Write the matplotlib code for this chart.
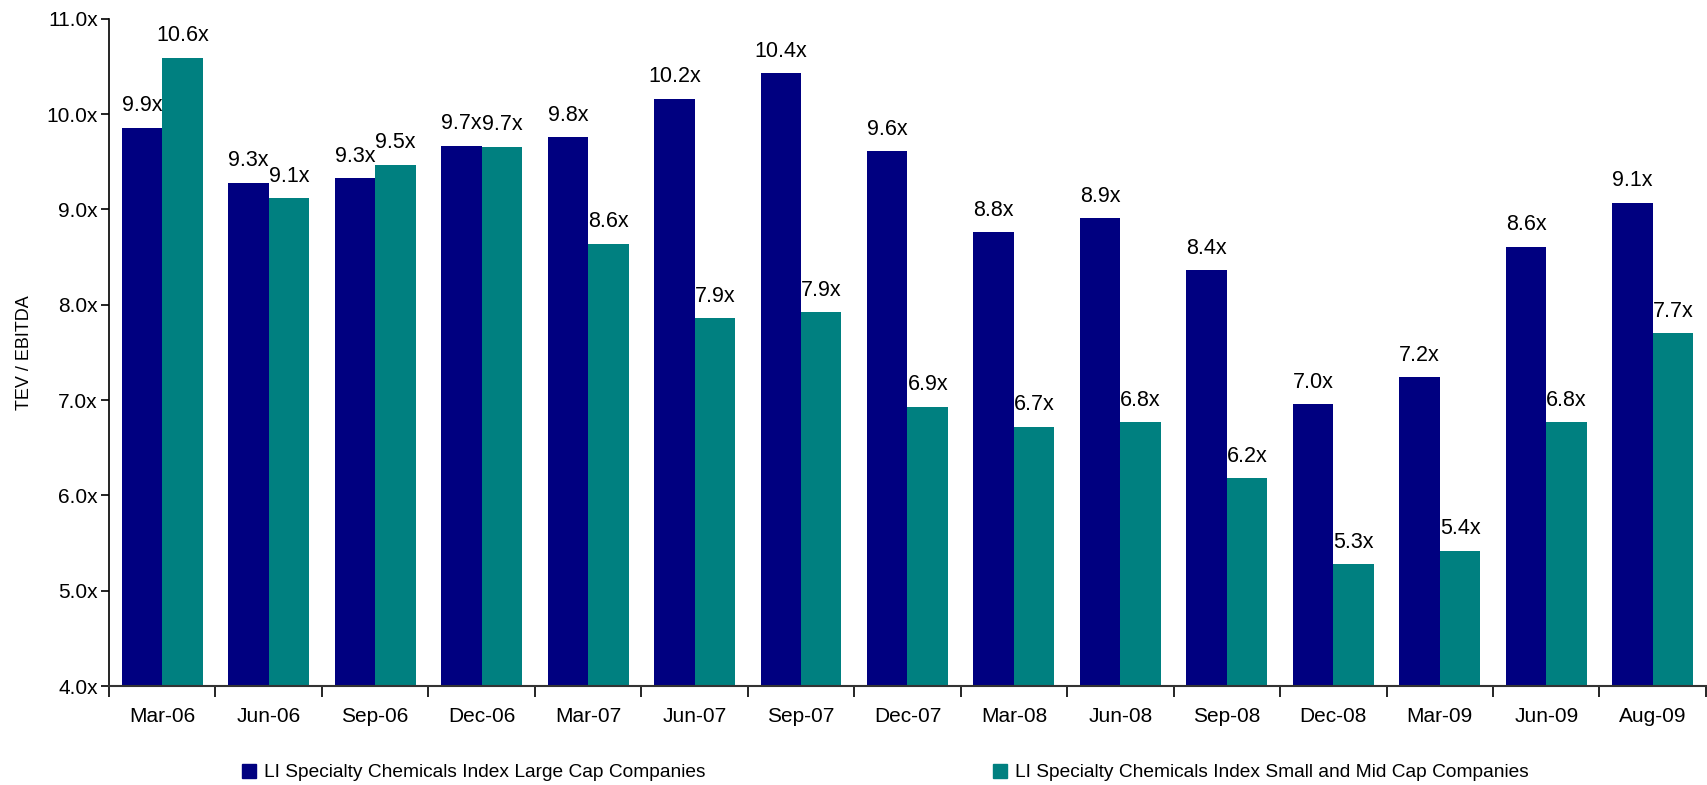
import matplotlib
matplotlib.use("Agg")
import matplotlib.pyplot as plt
from matplotlib.patches import Patch
import numpy as np

plt.rcParams["font.family"] = ["Liberation Sans", "DejaVu Sans"]

NAVY = "#000080"
TEAL = "#008080"

periods = ["Mar-06", "Jun-06", "Sep-06", "Dec-06", "Mar-07", "Jun-07", "Sep-07",
           "Dec-07", "Mar-08", "Jun-08", "Sep-08", "Dec-08", "Mar-09", "Jun-09", "Aug-09"]
large_cap = [9.86, 9.28, 9.33, 9.67, 9.76, 10.16, 10.43, 9.61, 8.76, 8.91, 8.36, 6.96, 7.24, 8.61, 9.07]
small_mid_cap = [10.59, 9.12, 9.47, 9.66, 8.64, 7.86, 7.92, 6.93, 6.72, 6.77, 6.18, 5.28, 5.42, 6.77, 7.70]
series_names = ["LI Specialty Chemicals Index Large Cap Companies",
                "LI Specialty Chemicals Index Small and Mid Cap Companies"]

FS = 15

fig = plt.figure(figsize=(17.08, 7.85), dpi=100)
ax = fig.add_axes([0.0638, 0.126, 0.935, 0.850])

x = np.arange(len(periods))
w = 0.38
b1 = ax.bar(x - w / 2, large_cap, w, color=NAVY)
b2 = ax.bar(x + w / 2, small_mid_cap, w, color=TEAL)

# value labels above each bar
for bars, vals in [(b1, large_cap), (b2, small_mid_cap)]:
    for rect, v in zip(bars, vals):
        ax.text(rect.get_x() + rect.get_width() / 2, v + 0.12, f"{v:.1f}x",
                ha="center", va="bottom", fontsize=15.5, color="black")

ax.set_ylim(4.0, 11.0)
ax.set_xlim(-0.5, len(periods) - 0.5)
yt = np.arange(4.0, 11.01, 1.0)
ax.set_yticks(yt)
ax.set_yticklabels([f"{t:.1f}x" for t in yt], fontsize=FS)
ax.set_xticks(x)
ax.set_xticklabels(periods, fontsize=FS)
ax.set_xticks(np.arange(-0.5, len(periods)), minor=True)
ax.tick_params(axis="x", which="major", length=0, pad=15)
ax.tick_params(axis="x", which="minor", length=8, width=1.2, direction="out")
ax.tick_params(axis="y", length=6, width=1.2, direction="out", pad=2)

ax.set_ylabel("TEV / EBITDA", fontsize=13, labelpad=10)
for s in ["top", "right"]:
    ax.spines[s].set_visible(False)
ax.spines["left"].set_linewidth(1.2)
ax.spines["bottom"].set_linewidth(1.5)
ax.spines["bottom"].set_color("#333333")

handles = [Patch(color=NAVY), Patch(color=TEAL)]
fig.legend(handles, series_names, loc="center left", bbox_to_anchor=(0.1417, 0.016),
           ncol=2, frameon=False, fontsize=13.8, handlelength=0.75, handleheight=0.75,
           handletextpad=0.4, columnspacing=15.0, borderaxespad=0, borderpad=0)

fig.savefig("out.png", dpi=100, facecolor="white")
